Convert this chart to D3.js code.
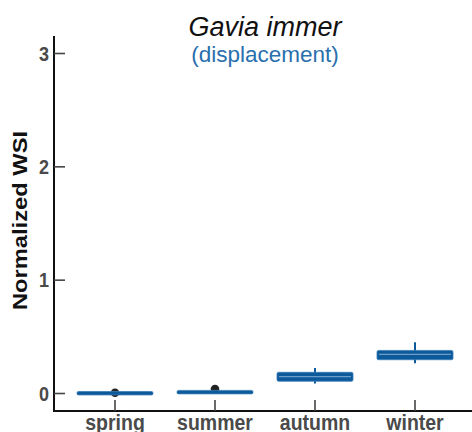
<!DOCTYPE html>
<html><head><meta charset="utf-8">
<script src="https://cdn.jsdelivr.net/npm/d3@7"></script>
<style>body{margin:0;background:#fff}svg{display:block}</style>
</head><body>
<script>
const categories = ["spring","summer","autumn","winter"];
const q1 = [-0.005, 0.006, 0.108, 0.298];
const median = [0.002, 0.012, 0.149, 0.345];
const q3 = [0.010, 0.018, 0.187, 0.380];
const whiskerLow = [-0.005, 0.006, 0.088, 0.266];
const whiskerHigh = [0.010, 0.018, 0.225, 0.453];
const outliers = [[0.006],[0.040],[],[]];
const yTicks = [0,1,2,3];
const title = "Gavia immer";
const subtitle = "(displacement)";
const yLabel = "Normalized WSI";

const W = 472, H = 432;
const FONT = "Liberation Sans, Arial, Helvetica, sans-serif";
const svg = d3.select("body").append("svg").attr("width", W).attr("height", H);

const y = d3.scaleLinear().domain([0,3]).range([393.5,53.5]);
const x = d3.scaleLinear().domain([-0.61,3.57]).range([54,472]);
const axisY0 = y.invert(411), axisYTop = y.invert(36);

const blue = "#0d5a9b";
// axes
svg.append("line").attr("x1",54).attr("x2",54).attr("y1",y(axisYTop)).attr("y2",y(axisY0)+1)
  .attr("stroke","#111").attr("stroke-width",2);
svg.append("line").attr("x1",53).attr("x2",W).attr("y1",y(axisY0)).attr("y2",y(axisY0))
  .attr("stroke","#111").attr("stroke-width",2);

// y ticks
const yt = svg.append("g");
yTicks.forEach(t=>{
  yt.append("line").attr("x1",54).attr("x2",65).attr("y1",y(t)).attr("y2",y(t)).attr("stroke","#444").attr("stroke-width",1.6);
  yt.append("text").attr("transform",`translate(49,${y(t)}) scale(1,1.1)`).attr("dy","0.36em").attr("text-anchor","end")
    .attr("font-family",FONT).attr("font-weight","bold").attr("font-size",18).attr("fill","#4a4a4a").text(t);
});

// x ticks + labels
categories.forEach((c,i)=>{
  svg.append("line").attr("x1",x(i)).attr("x2",x(i)).attr("y1",y(axisY0)).attr("y2",y(axisY0)-11).attr("stroke","#444").attr("stroke-width",1.6);
  svg.append("text").attr("transform",`translate(${x(i)},430) scale(1,1.15)`).attr("text-anchor","middle")
    .attr("font-family",FONT).attr("font-weight","bold").attr("font-size",19.5).attr("fill","#4a4a4a").text(c);
});

// boxes
const bw = 0.76;
categories.forEach((c,i)=>{
  const g = svg.append("g");
  outliers[i].forEach(v=>{
    g.append("circle").attr("cx",x(i)).attr("cy",y(v)).attr("r",4.3).attr("fill","#222");
  });
  g.append("line").attr("x1",x(i)).attr("x2",x(i)).attr("y1",y(whiskerLow[i])).attr("y2",y(whiskerHigh[i]))
    .attr("stroke",blue).attr("stroke-width",2);
  const top = y(q3[i]), bot = y(q1[i]);
  const h = Math.max(bot-top, 3.5);
  const mid = (top+bot)/2;
  g.append("rect").attr("x",x(i-bw/2)).attr("width",x(i+bw/2)-x(i-bw/2))
    .attr("y",mid-h/2).attr("height",h).attr("rx",1.5)
    .attr("fill",blue).attr("stroke","#3b7cb8").attr("stroke-width",0.8);
  if (bot-top > 5) {
    g.append("line").attr("x1",x(i-bw/2)+2).attr("x2",x(i+bw/2)-2).attr("y1",y(median[i])).attr("y2",y(median[i]))
      .attr("stroke","#6c9cc8").attr("stroke-width",1.2);
  }
});

// titles
svg.append("text").attr("x",265).attr("y",36).attr("text-anchor","middle")
  .attr("font-family",FONT).attr("font-style","italic").attr("font-size",27).attr("fill","#111").text(title);
svg.append("text").attr("x",265).attr("y",62).attr("text-anchor","middle")
  .attr("font-family",FONT).attr("font-size",22.5).attr("fill","#2a6fae").text(subtitle);

svg.append("text").attr("transform","translate(27,220.5) rotate(-90) scale(1.13,1)").attr("text-anchor","middle")
  .attr("font-family",FONT).attr("font-weight","bold").attr("font-size",21).attr("fill","#111").text(yLabel);
</script>
</body></html>
